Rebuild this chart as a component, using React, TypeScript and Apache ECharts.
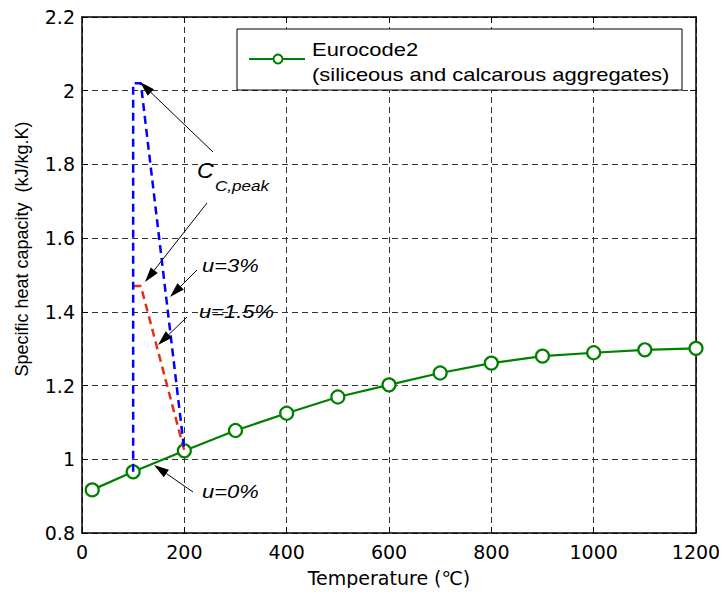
import React, { useEffect, useRef } from "react";
import * as echarts from "echarts";

const temps = [20, 100, 200, 300, 400, 500, 600, 700, 800, 900, 1000, 1100, 1200];
const cpEurocode = [0.917, 0.966, 1.023, 1.078, 1.125, 1.169, 1.202, 1.234, 1.261, 1.28, 1.289, 1.297, 1.301];
const peak3T = [100, 100, 115, 200];
const peak3 = [0.966, 2.02, 2.02, 1.023];
const peak15T = [100, 115, 200];
const peak15 = [1.47, 1.47, 1.023];
const legendLines = ["Eurocode2", "(siliceous and calcarous aggregates)"];

const FONT = "'Liberation Sans', Arial, sans-serif";
const AXFONT = "'DejaVu Sans', sans-serif";

function arrow(x1: number, y1: number, x2: number, y2: number) {
  const dx = x2 - x1, dy = y2 - y1;
  const len = Math.sqrt(dx * dx + dy * dy);
  const ux = dx / len, uy = dy / len;
  const hl = 15, hw = 4.5;
  const bx = x2 - ux * hl, by = y2 - uy * hl;
  const px = -uy, py = ux;
  return [
    { type: "line", z: 50, shape: { x1, y1, x2: bx, y2: by }, style: { stroke: "#000", lineWidth: 1 } },
    {
      type: "polygon", z: 50,
      shape: { points: [[x2, y2], [bx + px * hw, by + py * hw], [bx - px * hw, by - py * hw]] },
      style: { fill: "#000" },
    },
  ];
}

function label(text: string, x: number, y: number, size: number, sx: number, italic = true, z = 50) {
  return {
    type: "text", z, x, y, scaleX: sx,
    style: {
      text, fontSize: size, fontStyle: italic ? "italic" : "normal", fontFamily: FONT,
      fill: "#000", verticalAlign: "middle", align: "left",
    },
  };
}

export default function App() {
  const ref = useRef<HTMLDivElement>(null);
  useEffect(() => {
    if (!ref.current) return;
    const chart = echarts.init(ref.current, undefined, { renderer: "svg" });
    const gridLine = { show: true, lineStyle: { color: "#333", type: [6, 4], width: 1 } };
    const labelStyle = { color: "#000", fontSize: 19, fontFamily: AXFONT };
    const graphics: any[] = [
      { type: "rect", z: 40, shape: { x: 237, y: 29, width: 445, height: 61 }, style: { fill: "#fff", stroke: "#000", lineWidth: 1 } },
      { type: "line", z: 41, shape: { x1: 249, y1: 59, x2: 305, y2: 59 }, style: { stroke: "#008000", lineWidth: 2 } },
      { type: "circle", z: 42, shape: { cx: 278, cy: 59, r: 4.5 }, style: { fill: "#fff", stroke: "#008000", lineWidth: 2 } },
      label(legendLines[0], 312, 50, 18, 1.22, false, 42),
      label(legendLines[1], 312, 75, 18, 1.22, false, 42),
      label("C", 197, 171, 22, 1.05),
      label("C,peak", 215, 185, 15, 1.14),
      label("u=3%", 202, 266, 18, 1.22),
      label("u=1.5%", 199, 312, 18, 1.22),
      label("u=0%", 202, 492, 18, 1.22),
      ...arrow(213, 152, 140, 82),
      ...arrow(207, 203, 145, 282),
      ...arrow(197, 270, 170, 297),
      ...arrow(187, 317, 158, 345),
      ...arrow(193, 492, 154, 465),
    ];
    chart.setOption({
      animation: false,
      backgroundColor: "#fff",
      grid: { left: 82, top: 17, right: 31, bottom: 63 },
      xAxis: [
        {
          type: "value", min: 0, max: 1200, interval: 200, position: "bottom",
          axisLine: { show: true, lineStyle: { color: "#000", width: 1.5 } },
          axisTick: { show: true, inside: true, length: 6, lineStyle: { color: "#000" } },
          axisLabel: { ...labelStyle, margin: 9, formatter: (v: number) => String(v) },
          splitLine: gridLine,
          name: "Temperature (\u2103)", nameLocation: "middle", nameGap: 35,
          nameTextStyle: { color: "#000", fontSize: 19, fontFamily: AXFONT },
        },
        {
          type: "value", min: 0, max: 1200, interval: 200, position: "top",
          axisLine: { show: true, onZero: false, lineStyle: { color: "#000", width: 1.5 } },
          axisTick: { show: true, inside: true, length: 6, lineStyle: { color: "#000" } },
          axisLabel: { show: false }, splitLine: { show: false },
        },
      ],
      yAxis: [
        {
          type: "value", min: 0.8, max: 2.2, interval: 0.2, position: "left",
          axisLine: { show: true, onZero: false, lineStyle: { color: "#000", width: 1.5 } },
          axisTick: { show: true, inside: true, length: 6, lineStyle: { color: "#000" } },
          axisLabel: { ...labelStyle, margin: 7, formatter: (v: number) => String(+v.toFixed(1)) },
          splitLine: gridLine,
          name: "Specific heat capacity  (kJ/kg.K)", nameLocation: "middle", nameGap: 51,
          nameTextStyle: { color: "#000", fontSize: 18, fontFamily: FONT, padding: [0, 0, 0, 52] },
        },
        {
          type: "value", min: 0.8, max: 2.2, interval: 0.2, position: "right",
          axisLine: { show: true, onZero: false, lineStyle: { color: "#000", width: 1.5 } },
          axisTick: { show: true, inside: true, length: 6, lineStyle: { color: "#000" } },
          axisLabel: { show: false }, splitLine: { show: false },
        },
      ],
      series: [
        {
          type: "line", name: "Eurocode2",
          data: temps.map((t, i) => [t, cpEurocode[i]]),
          symbol: "circle", symbolSize: 13, showSymbol: true,
          lineStyle: { color: "#008000", width: 2.2 },
          itemStyle: { color: "#fff", borderColor: "#008000", borderWidth: 2.2 },
          z: 3,
        },
        {
          type: "line", name: "u=1.5%",
          data: peak15T.map((t, i) => [t, peak15[i]]),
          symbol: "none",
          lineStyle: { color: "#e0301a", width: 2.5, type: [8, 5] },
          z: 4,
        },
        {
          type: "line", name: "u=3%",
          data: peak3T.map((t, i) => [t, peak3[i]]),
          symbol: "none",
          lineStyle: { color: "#0000ff", width: 2.5, type: [8, 5] },
          z: 5,
        },
      ],
      graphic: graphics,
    });
    return () => chart.dispose();
  }, []);
  return <div ref={ref} style={{ width: 727, height: 596, margin: -8 }} />;
}
